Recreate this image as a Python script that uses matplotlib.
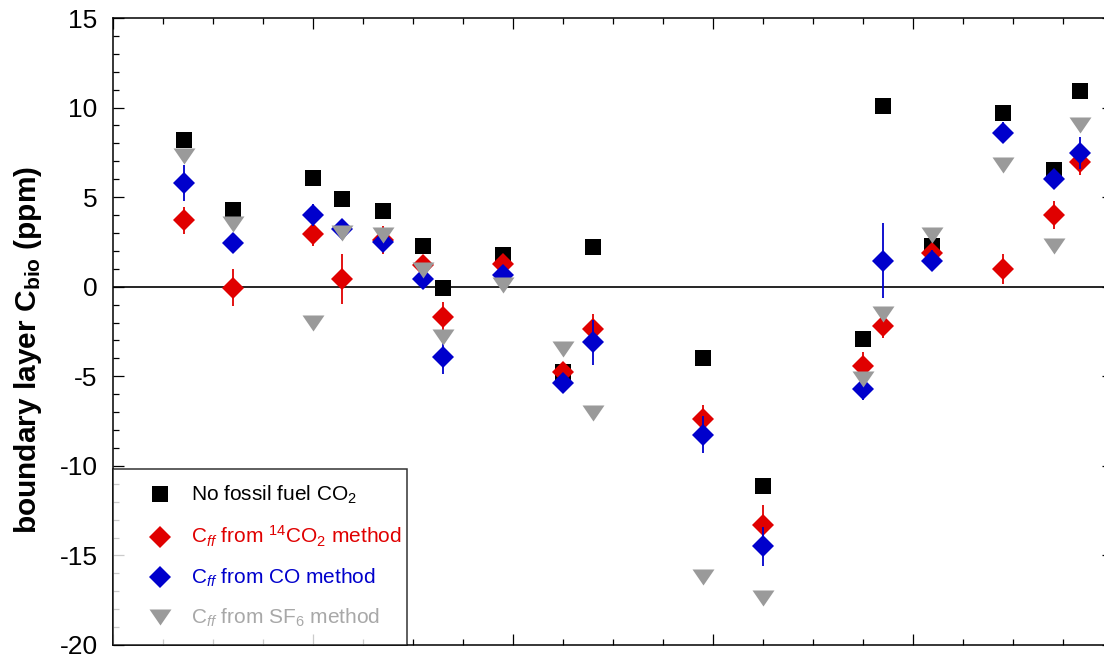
import numpy as np
import matplotlib
matplotlib.use("Agg")
import matplotlib.pyplot as plt
from matplotlib.path import Path
from matplotlib.lines import Line2D
from matplotlib.ticker import MultipleLocator, NullFormatter

plt.rcParams['font.family'] = ['Liberation Sans', 'DejaVu Sans']
plt.rcParams['mathtext.fontset'] = 'custom'
plt.rcParams['mathtext.rm'] = 'Liberation Sans'
plt.rcParams['mathtext.it'] = 'Liberation Sans:italic'
plt.rcParams['mathtext.bf'] = 'Liberation Sans:bold'
plt.rcParams['axes.unicode_minus'] = False

# ---- data (x in arbitrary sample units, y in ppm) ----
x_pos = [0.355, 0.60, 1.00, 1.145, 1.35, 1.55, 1.65, 1.95, 2.25, 2.40,
         2.95, 3.25, 3.75, 3.85, 4.095, 4.45, 4.705, 4.835]
no_ff = [8.2, 4.3, 6.05, 4.9, 4.2, 2.25, -0.05, 1.75, -4.75, 2.2,
         -4.0, -11.15, -2.9, 10.1, 2.25, 9.7, 6.5, 10.9]
c14 = [3.7, -0.05, 2.95, 0.45, 2.6, 1.2, -1.7, 1.25, -4.75, -2.35,
       -7.4, -13.3, -4.4, -2.2, 1.9, 1.0, 4.0, 6.95]
c14_err = [0.75, 1.05, 0.65, 1.4, 0.8, 0.45, 0.85, 0.35, 0.4, 0.8,
           0.8, 1.1, 0.75, 0.65, 0.4, 0.85, 0.8, 0.7]
cco = [5.8, 2.45, 4.0, 3.2, 2.5, 0.45, -3.9, 0.65, -5.4, -3.1,
       -8.25, -14.5, -5.7, 1.45, 1.45, 8.6, 6.0, 7.45]
cco_err = [1.0, 0.55, 0.6, 0.4, 0.4, 0.45, 1.0, 0.3, 0.35, 1.25,
           1.05, 1.1, 0.65, 2.1, 0.6, 0.6, 0.3, 0.9]
csf6 = [7.3, 3.5, -2.0, 3.0, 2.9, 0.95, -2.8, 0.1, -3.5, -7.05,
        -16.2, -17.35, -5.15, -1.55, 2.9, 6.8, 2.25, 9.0]

labels = ["No fossil fuel CO$_2$",
          "C$_{ff}$ from $^{14}$CO$_2$ method",
          "C$_{ff}$ from CO method",
          "C$_{ff}$ from SF$_6$ method"]

RED = "#e00000"
BLUE = "#0000cc"
GRAY = "#9a9a9a"
GRAY_TXT = "#a8a8a8"

tri = Path([(-1, 0.73), (1, 0.73), (0, -0.73), (-1, 0.73)],
           [Path.MOVETO, Path.LINETO, Path.LINETO, Path.CLOSEPOLY])

W, H = 1104, 659
fig = plt.figure(figsize=(W / 100, H / 100), dpi=100)
ax = fig.add_axes([113 / W, (H - 645) / H, 1000 / W, (645 - 18) / H])

ax.axhline(0, color='black', lw=1.2, zorder=1)

ax.plot(x_pos, no_ff, ls='none', marker='s', ms=11.5, color='black',
        mew=0, zorder=3)
ax.errorbar(x_pos, c14, yerr=c14_err, fmt='D', ms=11.2, color=RED,
            mew=0, ecolor=RED, elinewidth=1.3, capsize=3.3, capthick=1.3,
            zorder=4)
ax.errorbar(x_pos, cco, yerr=cco_err, fmt='D', ms=11.2, color=BLUE,
            mew=0, ecolor=BLUE, elinewidth=1.3, capsize=3.3, capthick=1.3,
            zorder=5)
ax.plot(x_pos, csf6, ls='none', marker=tri, ms=15.8, color=GRAY,
        mew=0, zorder=6)

ax.set_xlim(0, 5)
ax.set_ylim(-20, 15)
ax.xaxis.set_major_locator(MultipleLocator(1))
ax.xaxis.set_minor_locator(MultipleLocator(0.25))
ax.yaxis.set_major_locator(MultipleLocator(5))
ax.yaxis.set_minor_locator(MultipleLocator(1))
ax.xaxis.set_major_formatter(NullFormatter())
ax.tick_params(which='both', direction='in', top=True, right=True,
               width=0.9, color='black')
ax.tick_params(which='major', length=8, labelsize=19, pad=11)
ax.tick_params(which='minor', length=4)
for s in ax.spines.values():
    s.set_linewidth(1.1)

fig.text(28 / W, 1 - 350 / H,
         r"boundary layer C$_{\mathbf{bio}}$ (ppm)",
         rotation=90, ha='center', va='center', fontsize=21.5,
         fontweight='bold')

handles = [
    Line2D([], [], ls='none', marker='s', ms=11.5, color='black', mew=0),
    Line2D([], [], ls='none', marker='D', ms=11.2, color=RED, mew=0),
    Line2D([], [], ls='none', marker='D', ms=11.2, color=BLUE, mew=0),
    Line2D([], [], ls='none', marker=tri, ms=15.8, color=GRAY, mew=0),
]
leg = ax.legend(handles, labels, loc='lower left',
                bbox_to_anchor=(0, 0, 294 / 1000, 0.2), mode='expand',
                borderaxespad=0, fontsize=15, frameon=True, fancybox=False,
                edgecolor='black', handlelength=3.0, handletextpad=0.0,
                borderpad=0.75, labelspacing=0.85, numpoints=1)
leg.get_frame().set_linewidth(1.1)
leg.set_zorder(10)
for t, c in zip(leg.get_texts(), ['black', RED, BLUE, GRAY_TXT]):
    t.set_color(c)

fig.savefig("out.png", dpi=100)
